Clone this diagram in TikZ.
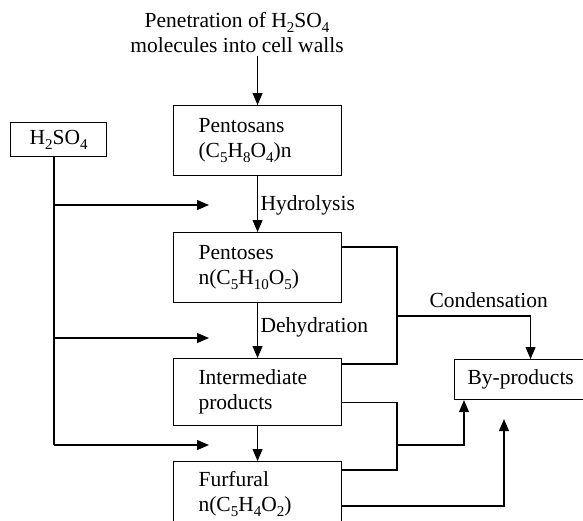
\documentclass[tikz,border=0pt]{standalone}
\usepackage{fontspec}
\setmainfont{Liberation Serif}
\usetikzlibrary{arrows.meta}

\newcommand{\ssub}[1]{\raisebox{-5pt}{\fontsize{15pt}{15pt}\selectfont #1}}

\tikzset{
  box/.style={draw, line width=1.1pt, align=left, anchor=north west,
    minimum width=168pt, minimum height=70pt, inner xsep=25pt, text width=118pt},
  arr/.style={-{Triangle[length=12pt,width=10pt]}},
  lbl/.style={anchor=west, inner sep=0pt}
}

\begin{document}
\begin{tikzpicture}[x=1pt, y=-1pt, line width=1.1pt,
  every node/.style={font=\fontsize{21.5pt}{25pt}\selectfont}]

% the frame
\useasboundingbox (0,0) rectangle (583,520);
\clip (0,0) rectangle (583,520);

% the boxes
\node[align=center, inner sep=2pt] (tp) at (237,33)
  {Penetration of H\ssub{2}SO\ssub{4}\\molecules into cell walls};
\node[box] (pentosans) at (173,105) {Pentosans\\(C\ssub{5}H\ssub{8}O\ssub{4})n};
\node[box] (pentoses) at (173,232) {Pentoses\\n(C\ssub{5}H\ssub{10}O\ssub{5})};
\node[box, minimum height=67pt] (interm) at (173,358) {Intermediate\\products};
\node[box, minimum height=64pt] (furfural) at (173,461) {Furfural\\n(C\ssub{5}H\ssub{4}O\ssub{2})};
\node[box, minimum width=152pt, minimum height=40pt, inner xsep=13pt,
  text width=126pt] (byprod) at (454,359) {By-products};
\node[draw, line width=1.1pt, minimum width=96pt, minimum height=34pt,
  anchor=north west] (acid) at (10,122) {H\ssub{2}SO\ssub{4}};

% the labels
\node[lbl] (lhyd) at (260,205) {Hydrolysis};
\node[lbl] (ldeh) at (260,327) {Dehydration};
\node[lbl] (lcond) at (429,300) {Condensation};

% the main chain
\draw[arr] (tp.south -| pentosans.north) -- (pentosans.north);
\draw[arr] (pentosans) -- (pentoses);
\draw[arr] (pentoses) -- (interm);
\draw[arr] (interm) -- (furfural);

% the acid feed
\coordinate (r1) at (54,205);
\coordinate (r2) at (54,338);
\coordinate (r3) at (54,445);
\draw (acid.south -| r1) -- (r3);
\foreach \r in {r1,r2,r3}
  \draw[arr] (\r) -- ++(155,0);

% the by-products
\coordinate (j1) at (397,316);
\coordinate (j2) at (397,445);
\draw ([yshift=-15pt]pentoses.north east) -| (j1) |- ([yshift=-6pt]interm.north east);
\draw[arr] (j1) -| (byprod.north);
\draw ([yshift=24pt]interm.south east) -| (j2) |- ([yshift=-9pt]furfural.north east);
\draw[arr] (j2) -| ([xshift=10pt]byprod.south west);
\draw[arr] ([yshift=-45pt]furfural.north east) -| ([xshift=50pt,yshift=-19pt]byprod.south west);

\end{tikzpicture}
\end{document}
